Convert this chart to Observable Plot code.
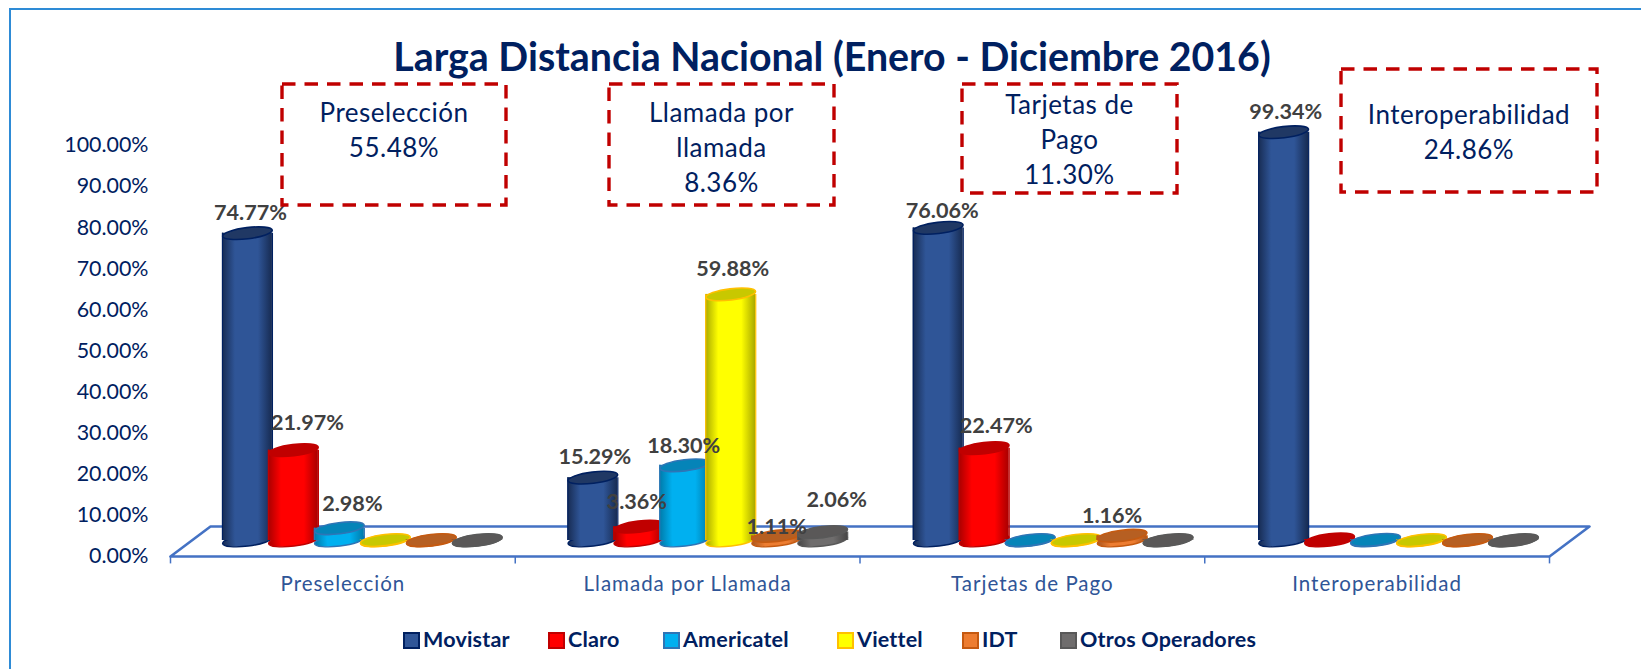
<!DOCTYPE html>
<html lang="es">
<head>
<meta charset="utf-8">
<script src="https://cdn.jsdelivr.net/npm/d3@7"></script>
<script src="https://cdn.jsdelivr.net/npm/@observablehq/plot@0.6"></script>
<style>
  html, body { margin: 0; padding: 0; background: #fff; }
  #page { position: relative; width: 1641px; height: 669px; overflow: hidden; font-family: Lato, "Open Sans", sans-serif; }
  #page > svg { position: absolute; left: 0; top: 0; }
  #frame { position: absolute; left: 9px; top: 8px; right: -4px; bottom: -4px; border: 2px solid #2e8bd6; }
  #title { position: absolute; left: 0; width: 1664px; top: 31px; text-align: center; font-size: 39.3px; line-height: 50px; font-weight: 700; color: #002060; white-space: nowrap; }
  .box { position: absolute; text-align: center; color: #002060; font-size: 26px; letter-spacing: 0.5px; line-height: 35px; white-space: nowrap; }
  .leg { position: absolute; top: 627px; height: 24px; line-height: 24px; font-size: 21.5px; letter-spacing: 0.2px; font-weight: 700; color: #002060; white-space: nowrap; }
  .leg i { position: absolute; left: 0; top: 5px; width: 13px; height: 13px; border-width: 2px; border-style: solid; }
  .leg span { position: absolute; top: 0; }
  [aria-label="x-axis tick label"] { letter-spacing: 1px; }
</style>
</head>
<body>
<div id="page">
  <div id="frame"></div>
  <div id="title">Larga Distancia Nacional (Enero - Diciembre 2016)</div>
</div>
<script>
// ---------- data ----------
const categories = ["Preselección", "Llamada por Llamada", "Tarjetas de Pago", "Interoperabilidad"];
const operators = ["Movistar", "Claro", "Americatel", "Viettel", "IDT", "Otros Operadores"];
const preseleccion = [74.77, 21.97, 2.98, 0.1, 0.1, 0.08];
const llamadaPorLlamada = [15.29, 3.36, 18.30, 59.88, 1.11, 2.06];
const tarjetasDePago = [76.06, 22.47, 0.1, 0.1, 1.16, 0.1];
const interoperabilidad = [99.34, 0.25, 0.15, 0.1, 0.1, 0.06];
const categoryValues = [preseleccion, llamadaPorLlamada, tarjetasDePago, interoperabilidad];
const boxTitles = [["Preselección"], ["Llamada por", "llamada"], ["Tarjetas de", "Pago"], ["Interoperabilidad"]];
const boxShares = ["55.48%", "8.36%", "11.30%", "24.86%"];
const yTicks = [0, 10, 20, 30, 40, 50, 60, 70, 80, 90, 100];

// ---------- styling ----------
const bodyColor = ["#2f5597", "#ff0000", "#00b0f0", "#ffff00", "#ed7d31", "#6f6d6d"];
const shadeColor = ["#172b52", "#a80000", "#0079a8", "#a8a800", "#a9561f", "#474646"];
const topColor = ["#203864", "#c00000", "#0584b8", "#c8c800", "#b65f22", "#5a5858"];
const edgeColor = ["#002060", "#c00000", "#2e75b6", "#ffc000", "#c55a11", "#595959"];

// ---------- layout ----------
const groupPitch = 1.0019, groupLead = 77 / 345, barStep = 46 / 345, barHalf = 25 / 345;
const baseLift = -16;
const ellipse = {
  draw(ctx, size) {
    const rx = Math.sqrt(size / Math.PI), ry = 5.6, k = 0.5523;
    ctx.moveTo(-rx, 0);
    ctx.bezierCurveTo(-rx, -ry * k, -rx * k, -ry, 0, -ry);
    ctx.bezierCurveTo(rx * k, -ry, rx, -ry * k, rx, 0);
    ctx.bezierCurveTo(rx, ry * k, rx * k, ry, 0, ry);
    ctx.bezierCurveTo(-rx * k, ry, -rx, ry * k, -rx, 0);
    ctx.closePath();
  }
};
const labelNudge = {
  "0-0": [3, -20], "0-1": [14, -27], "0-2": [13, -24],
  "1-0": [2, -21], "1-1": [-2, -25], "1-2": [-1, -19], "1-3": [2, -25], "1-4": [0, -9], "1-5": [14, -32],
  "2-0": [4, -17], "2-1": [12, -22], "2-4": [-10, -20],
  "3-0": [2, -20]
};
const rows = categories.flatMap((category, g) => operators.map((operator, j) => ({
  category, operator, g, j, value: categoryValues[g][j],
  center: g * groupPitch + groupLead + j * barStep
})));
const gradients = () => {
  const defs = d3.create("svg:defs");
  operators.forEach((_, j) => {
    const grad = defs.append("linearGradient").attr("id", `cyl${j}`);
    [[0, shadeColor[j]], [0.26, bodyColor[j]], [0.72, bodyColor[j]], [1, shadeColor[j]]]
      .forEach(([o, c]) => grad.append("stop").attr("offset", o).attr("stop-color", c));
  });
  return defs.node();
};
const floorOutline = [[0, 0], [4, 0], [4.116, 7.3], [0.116, 7.3], [0, 0]];
const pct = v => `${v.toFixed(2)}%`;

const cylinderMarks = operators.flatMap((_, j) => {
  const data = rows.filter(d => d.j === j);
  const fill = `url(#cyl${j})`;
  return [
    Plot.dot(data, {x: "center", y: () => 0, r: 25, symbol: ellipse, rotate: -7, dy: baseLift, fill, stroke: edgeColor[j], strokeWidth: 1.4}),
    Plot.rect(data, {x1: d => d.center - barHalf, x2: d => d.center + barHalf, y1: () => 0, y2: "value", dy: baseLift, fill}),
    Plot.ruleX(data, {x: d => d.center - barHalf, y1: () => 0, y2: "value", dy: baseLift, stroke: edgeColor[j], strokeWidth: 1.2}),
    Plot.ruleX(data, {x: d => d.center + barHalf, y1: () => 0, y2: "value", dy: baseLift, stroke: edgeColor[j], strokeWidth: 1.2}),
    Plot.dot(data, {x: "center", y: "value", r: 25, symbol: ellipse, rotate: -7, dy: baseLift, fill: topColor[j], stroke: edgeColor[j], strokeWidth: 1.6})
  ];
});
const labelMarks = rows.filter(d => d.value >= 1).map(d => {
  const [dx, dy] = labelNudge[`${d.g}-${d.j}`];
  return Plot.text([d], {
    x: "center", y: "value", text: r => pct(r.value), dx, dy: baseLift + dy,
    fontSize: 21.6, fontWeight: 700, fill: "#404040", lineAnchor: "middle"
  });
});

const chart = Plot.plot({
  width: 1641, height: 669,
  marginLeft: 170, marginRight: 92, marginTop: 145, marginBottom: 113,
  style: {fontFamily: "Lato, 'Open Sans', sans-serif", background: "transparent", overflow: "visible"},
  x: {domain: [0, 4], axis: null},
  y: {domain: [0, 100], axis: null},
  marks: [
    gradients,
    Plot.axisY({ticks: yTicks, tickFormat: pct, tickSize: 0, tickPadding: 22, label: null, fontSize: 21.4, fill: "#002060", lineAnchor: "middle"}),
    Plot.axisX({ticks: categories.map((_, g) => g + 0.5), tickFormat: v => categories[v - 0.5], tickSize: 0, tickPadding: 20, label: null, fontSize: 20.5, fill: "#2f5597", lineAnchor: "top"}),
    Plot.line(floorOutline, {x: d => d[0], y: d => d[1], stroke: "#4472c4", strokeWidth: 2.6, curve: "linear"}),
    Plot.ruleX([0, 1, 2, 3, 4], {y1: () => 0, y2: () => -1.8, stroke: "#4472c4", strokeWidth: 1.5}),
    ...cylinderMarks,
    ...labelMarks
  ]
});
const page = document.getElementById("page");
page.appendChild(chart);

// ---------- dashed annotation boxes ----------
const boxRects = [[282, 84, 224, 121], [609, 84, 225, 121], [962, 84, 215, 109], [1341, 69, 256, 123]];
const boxTextTop = [95, 95, 87, 97];
const overlay = d3.select(page).append("svg").attr("width", 1641).attr("height", 669);
boxRects.forEach(([x, y, w, h], i) => {
  overlay.append("rect").attr("x", x).attr("y", y).attr("width", w).attr("height", h)
    .attr("fill", "none").attr("stroke", "#c00000").attr("stroke-width", 3.4).attr("stroke-dasharray", "13.5 9");
  d3.select(page).append("div").attr("class", "box")
    .style("left", `${x}px`).style("width", `${w}px`).style("top", `${boxTextTop[i]}px`)
    .html([...boxTitles[i], boxShares[i]].join("<br>"));
});

// ---------- legend ----------
const legendLeft = [403, 548, 663, 837, 962, 1060];
operators.forEach((name, j) => {
  const item = d3.select(page).append("div").attr("class", "leg").style("left", `${legendLeft[j]}px`);
  item.append("i").style("background", bodyColor[j]).style("border-color", edgeColor[j]);
  item.append("span").style("left", "20px").text(name);
});
</script>
</body>
</html>
